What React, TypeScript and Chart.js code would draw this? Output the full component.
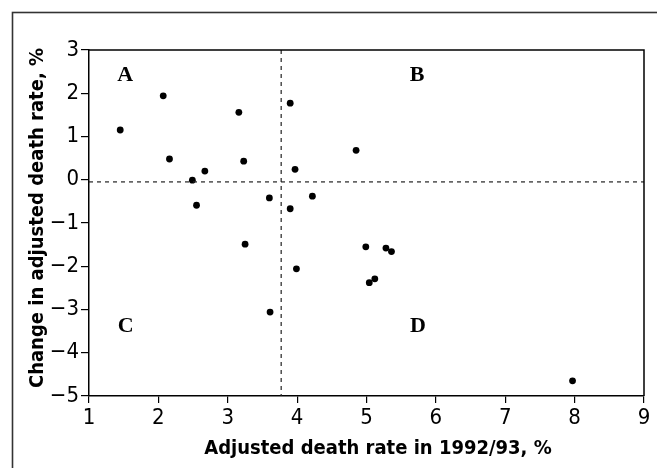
import React, { useEffect, useRef } from "react";
import { Chart, registerables } from "chart.js";

Chart.register(...registerables);

const X_VALUES = [2.07, 1.45, 3.16, 3.9, 2.16, 3.23, 2.67, 2.49, 3.97, 4.85, 3.6, 2.55, 4.22, 3.9, 3.25, 4.99, 5.28, 5.36, 3.99, 5.12, 5.04, 3.61, 7.97];
const Y_VALUES = [1.94, 1.15, 1.56, 1.77, 0.48, 0.43, 0.2, -0.01, 0.24, 0.68, -0.42, -0.59, -0.38, -0.67, -1.49, -1.55, -1.58, -1.66, -2.06, -2.29, -2.38, -3.06, -4.65];

const X_MIN = 1;
const X_MAX = 9;
const Y_MIN = -5;
const Y_MAX = 3;
const V_LINE_X = 3.77;
const H_LINE_Y = -0.05;

const QUADRANT_LABELS = ["A", "B", "C", "D"];
const QUADRANT_X = [1.52, 5.73, 1.53, 5.74];
const QUADRANT_Y = [2.42, 2.42, -3.4, -3.4];

const X_TITLE = "Adjusted death rate in 1992/93, %";
const Y_TITLE = "Change in adjusted death rate, %";

const TICK_FONT = '"DejaVu Sans Condensed", "DejaVu Sans", sans-serif';

const decorPlugin = {
  id: "decor",
  afterDraw(chart: any) {
    const ctx = chart.ctx;
    const area = chart.chartArea;
    const xs = chart.scales.x;
    const ys = chart.scales.y;
    ctx.save();
    // outer frame
    ctx.strokeStyle = "#333";
    ctx.lineWidth = 1.6;
    ctx.strokeRect(12.5, 12.5, 800, 600);
    // plot box top/right
    ctx.strokeStyle = "#000";
    ctx.lineWidth = 1.5;
    ctx.beginPath();
    ctx.moveTo(area.left, area.top);
    ctx.lineTo(area.right, area.top);
    ctx.lineTo(area.right, area.bottom);
    ctx.stroke();
    // quadrant letters
    ctx.fillStyle = "#000";
    ctx.font = 'bold 22px "Liberation Serif", serif';
    ctx.textAlign = "center";
    ctx.textBaseline = "middle";
    QUADRANT_LABELS.forEach((t, i) => {
      ctx.fillText(t, xs.getPixelForValue(QUADRANT_X[i]), ys.getPixelForValue(QUADRANT_Y[i]));
    });
    // axis titles
    ctx.font = 'bold 20px ' + TICK_FONT;
    ctx.textBaseline = "alphabetic";
    ctx.textAlign = "center";
    ctx.fillText(X_TITLE, 378, 454);
    ctx.translate(43, 218);
    ctx.rotate(-Math.PI / 2);
    ctx.fillText(Y_TITLE, 0, 0);
    ctx.restore();
  },
};

export default function App() {
  const ref = useRef<HTMLCanvasElement | null>(null);
  useEffect(() => {
    if (!ref.current) return;
    const points = X_VALUES.map((x, i) => ({ x, y: Y_VALUES[i] }));
    const fmt = (v: any) => (v < 0 ? "\u2212" + Math.abs(v) : String(v));
    const chart = new Chart(ref.current, {
      type: "scatter",
      data: {
        datasets: [
          {
            type: "line",
            data: [
              { x: V_LINE_X, y: Y_MAX },
              { x: V_LINE_X, y: Y_MIN },
            ],
            borderColor: "#222",
            borderWidth: 1.2,
            borderDash: [4, 4],
            pointRadius: 0,
            fill: false,
          } as any,
          {
            type: "line",
            data: [
              { x: X_MIN, y: H_LINE_Y },
              { x: X_MAX, y: H_LINE_Y },
            ],
            borderColor: "#222",
            borderWidth: 1.2,
            borderDash: [4, 4],
            pointRadius: 0,
            fill: false,
          } as any,
          {
            data: points,
            backgroundColor: "#000",
            borderColor: "#000",
            pointRadius: 3.4,
            borderWidth: 0,
          },
        ],
      },
      options: {
        responsive: false,
        animation: false,
        devicePixelRatio: 1,
        layout: { padding: { left: 0, top: 50, right: 13, bottom: 0 } },
        plugins: { legend: { display: false }, tooltip: { enabled: false } },
        scales: {
          x: {
            type: "linear",
            min: X_MIN,
            max: X_MAX,
            ticks: { stepSize: 1, color: "#000", font: { family: TICK_FONT, size: 22 }, padding: 2, callback: fmt },
            grid: { drawOnChartArea: false, tickLength: 7, color: "#000", lineWidth: 1.2 },
            border: { display: true, color: "#000", width: 1.5 },
            afterFit: (s: any) => {
              s.height = 72;
            },
          },
          y: {
            type: "linear",
            min: Y_MIN,
            max: Y_MAX,
            ticks: { stepSize: 1, color: "#000", font: { family: TICK_FONT, size: 22 }, padding: 2, callback: fmt },
            grid: { drawOnChartArea: false, tickLength: 8, color: "#000", lineWidth: 1.2 },
            border: { display: true, color: "#000", width: 1.5 },
            afterFit: (s: any) => {
              s.width = 89;
            },
          },
        },
      } as any,
      plugins: [decorPlugin],
    });
    return () => chart.destroy();
  }, []);
  return (
    <div style={{ position: "fixed", left: 0, top: 0, width: 657, height: 468, background: "#fff" }}>
      <canvas ref={ref} width={657} height={468} style={{ display: "block" }} />
    </div>
  );
}
